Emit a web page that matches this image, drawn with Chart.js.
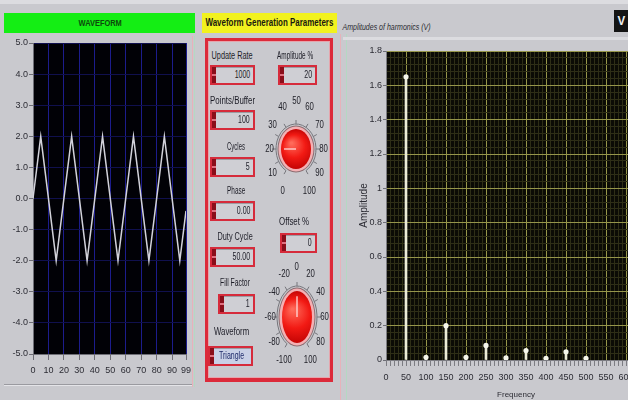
<!DOCTYPE html>
<html>
<head>
<meta charset="utf-8">
<title>Waveform Generation</title>
<script src="https://cdn.jsdelivr.net/npm/chart.js@4.4.1/dist/chart.umd.min.js"></script>
<style>
  html, body { margin: 0; padding: 0; }
  body {
    position: relative; width: 628px; height: 400px; overflow: hidden;
    background: #c9c9ce; color: #1c1c26;
    font-family: "Liberation Sans", Arial, sans-serif;
  }
  .blk { position: absolute; }
  canvas { position: absolute; display: block; }
  .lbl { position: absolute; white-space: nowrap; font-size: 10px; line-height: 12px; transform-origin: 50% 50%; }
  .num {
    position: absolute; box-sizing: border-box; height: 20px;
    border: 2px solid #d62b3b; background: #cfcfd4;
    box-shadow: inset 1px 1px 0 #9c9ca2;
  }
  .num .spin {
    position: absolute; left: 0; top: 0; width: 4px; height: 100%;
    background: linear-gradient(#8a0e1a 0 42%, #e07080 42% 58%, #8a0e1a 58% 100%);
  }
  .num .val {
    position: absolute; right: 3px; top: 2px; font-size: 10px; line-height: 12px;
    white-space: nowrap; transform-origin: 100% 50%;
  }
  .ring { background: #c9d0e6; }
  .ring .val { left: 9px; right: auto; color: #1e2a6a; transform-origin: 0 50%; }
</style>
</head>
<body>

<div class="blk" style="left:0;top:0;width:628px;height:4px;background:#dcdce0"></div>
<div class="blk" style="left:4px;top:13px;width:191px;height:20px;background:#14ee14"></div>
<div class="blk" style="left:202px;top:13px;width:135px;height:20px;background:#f2f21e"></div>
<div class="blk" style="left:192px;top:36px;width:1px;height:351px;background:#e6b2ba"></div>
<div class="blk" style="left:194px;top:36px;width:1px;height:351px;background:#b4d8c2"></div>
<div class="blk" style="left:4px;top:384px;width:188px;height:1px;background:#9a9aa0"></div>
<div class="blk" style="left:4px;top:385px;width:188px;height:1px;background:#e4e4e8"></div>
<div class="blk" style="left:340px;top:34px;width:1px;height:366px;background:#e6b2ba"></div>
<div class="blk" style="left:346px;top:34px;width:1px;height:366px;background:#b4d8c2"></div>
<div class="blk" style="left:343px;top:37px;width:285px;height:3px;background:#dcdce0"></div>
<div class="blk" style="left:614px;top:10px;width:14px;height:22px;background:#141414"></div>

<div class="blk" style="left:205px;top:38px;width:128px;height:344px;box-sizing:border-box;border:3px solid #dc2a3a;border-bottom-width:4px;box-shadow:inset 0 0 0 1px #e6a4ac"></div>

<canvas id="wave" width="198" height="350" style="left:0;top:36px"></canvas>
<canvas id="harm" width="320" height="360" style="left:340px;top:40px"></canvas>
<canvas id="knobAmp" width="90" height="130" style="left:251px;top:84px"></canvas>
<canvas id="knobOff" width="90" height="130" style="left:252px;top:252px"></canvas>

<script>
// ---- values shown on the panel ----
const waveX = [0, 5, 15, 25, 35, 45, 55, 65, 75, 85, 95, 99];
const waveY = [0, 2, -2, 2, -2, 2, -2, 2, -2, 2, -2, -0.4];
const waveXTicks = [0, 10, 20, 30, 40, 50, 60, 70, 80, 90, 99];
const waveYTicks = [-5, -4, -3, -2, -1, 0, 1, 2, 3, 4, 5];

const harmonicFreq = [50, 100, 150, 200, 250, 300, 350, 400, 450, 500];
const harmonicAmp  = [1.65, 0.015, 0.2, 0.015, 0.085, 0.012, 0.055, 0.01, 0.048, 0.01];
const freqTicks = [0, 50, 100, 150, 200, 250, 300, 350, 400, 450, 500, 550, 600, 650];
const ampTicks  = [0, 0.2, 0.4, 0.6, 0.8, 1, 1.2, 1.4, 1.6, 1.8];

const paramNames  = ['Update Rate', 'Points/Buffer', 'Cycles', 'Phase', 'Duty Cycle', 'Fill Factor'];
const paramValues = ['1000', '100', '5', '0.00', '50.00', '1'];
const waveformName = 'Triangle';
const amplitudePct = 20;
const offsetPct = 0;
const amplitudeDial = [0, 10, 20, 30, 40, 50, 60, 70, 80, 90, 100];
const offsetDial = [-100, -80, -60, -40, -20, 0, 20, 40, 60, 80, 100];

// ---- panel text helpers ----
function placeText(text, cx, cy, targetW, style) {
  const s = document.createElement('span');
  s.className = 'lbl';
  s.textContent = text;
  if (style) Object.assign(s.style, style);
  document.body.appendChild(s);
  const w = s.offsetWidth, h = s.offsetHeight;
  s.style.left = (cx - w / 2) + 'px';
  s.style.top = (cy - h / 2) + 'px';
  if (targetW) s.style.transform = 'scaleX(' + (targetW / w).toFixed(3) + ')';
  return s;
}

function numBox(value, x, y, w, cls) {
  const b = document.createElement('div');
  b.className = 'num' + (cls ? ' ' + cls : '');
  b.style.left = x + 'px'; b.style.top = y + 'px'; b.style.width = w + 'px';
  const sp = document.createElement('i'); sp.className = 'spin'; b.appendChild(sp);
  const v = document.createElement('span'); v.className = 'val'; v.textContent = value;
  b.appendChild(v);
  document.body.appendChild(b);
  v.style.transform = 'scaleX(0.7)';
  return b;
}

// titles
placeText('WAVEFORM', 100, 23, 43, {fontWeight: 'bold', fontSize: '9px', color: '#0c4a0c'});
placeText('Waveform Generation Parameters', 269, 23, 128, {fontWeight: 'bold', color: '#1a1a10'});
placeText('Amplitudes of harmonics (V)', 386, 27, 88, {fontStyle: 'italic', fontSize: '9px', color: '#2a2a30'});
placeText('V', 621, 21, 8, {fontWeight: 'bold', fontSize: '13px', color: '#f0f0f0'});

// left column of numeric controls
const paramLayout = [
  {lx: 232, ly: 56,  lw: 41, bx: 210, by: 65,  bw: 45},
  {lx: 232, ly: 101, lw: 45, bx: 210, by: 110, bw: 45},
  {lx: 236, ly: 147, lw: 18, bx: 210, by: 157, bw: 45},
  {lx: 236, ly: 191, lw: 18, bx: 210, by: 201, bw: 45},
  {lx: 235, ly: 237, lw: 35, bx: 210, by: 247, bw: 45},
  {lx: 235, ly: 283, lw: 30, bx: 218, by: 294, bw: 37}
];
paramNames.forEach((name, i) => {
  const p = paramLayout[i];
  placeText(name, p.lx, p.ly, p.lw);
  numBox(paramValues[i], p.bx, p.by, p.bw);
});
placeText('Waveform', 231, 332, 35);
numBox(waveformName, 208, 346, 45, 'ring');

// right column
placeText('Amplitude %', 295, 56, 36);
numBox(String(amplitudePct), 278, 65, 39);
placeText('Offset %', 294, 222, 30);
numBox(String(offsetPct), 280, 233, 37);

// ---- knobs ----
function dialAngle(v, lo, hi) { return (-150 + 300 * (v - lo) / (hi - lo)) * Math.PI / 180; }

function drawKnob(id, k) {
  const cv = document.getElementById(id);
  const ctx = cv.getContext('2d');
  const cx = cv.width / 2, cy = cv.height / 2;
  const pt = (a, rx, ry) => [cx + Math.sin(a) * rx, cy - Math.cos(a) * ry];
  // dial arc and tick marks
  ctx.strokeStyle = '#76767c'; ctx.lineWidth = 1;
  ctx.beginPath();
  ctx.ellipse(cx, cy, k.rx + 5, k.ry + 5, 0, -240 * Math.PI / 180, 60 * Math.PI / 180);
  ctx.stroke();
  k.labels.forEach(v => {
    const a = dialAngle(v, k.lo, k.hi);
    const p1 = pt(a, k.rx + 5, k.ry + 5), p2 = pt(a, k.rx + 9, k.ry + 9);
    ctx.beginPath(); ctx.moveTo(p1[0], p1[1]); ctx.lineTo(p2[0], p2[1]); ctx.stroke();
  });
  // rim, halo, body
  ctx.fillStyle = '#8c6c70';
  ctx.beginPath(); ctx.ellipse(cx, cy, k.rx + 3.5, k.ry + 3.5, 0, 0, Math.PI * 2); ctx.fill();
  ctx.fillStyle = '#f4b0b4';
  ctx.beginPath(); ctx.ellipse(cx, cy, k.rx + 2.5, k.ry + 2.5, 0, 0, Math.PI * 2); ctx.fill();
  const g = ctx.createRadialGradient(cx - k.rx * 0.3, cy - k.ry * 0.3, 1, cx, cy, Math.max(k.rx, k.ry));
  g.addColorStop(0, '#ff6a5a'); g.addColorStop(0.55, '#f21a14'); g.addColorStop(1, '#c40404');
  ctx.fillStyle = g;
  ctx.beginPath(); ctx.ellipse(cx, cy, k.rx, k.ry, 0, 0, Math.PI * 2); ctx.fill();
  // pointer
  const a = dialAngle(k.value, k.lo, k.hi);
  const tip = pt(a, k.rx * 0.8, k.ry * 0.8);
  ctx.strokeStyle = '#ffe8e8'; ctx.lineWidth = 1.2;
  ctx.beginPath(); ctx.moveTo(cx, cy); ctx.lineTo(tip[0], tip[1]); ctx.stroke();
  // scale numbers
  const left = parseFloat(cv.style.left), top = parseFloat(cv.style.top);
  k.labels.forEach(v => {
    const p = pt(dialAngle(v, k.lo, k.hi), k.lrx, k.lry);
    const s = placeText(String(v), left + p[0], top + p[1], null, {color: '#22222a'});
    s.style.transform = 'scaleX(0.78)';
  });
}

drawKnob('knobAmp', {rx: 15, ry: 20, lrx: 27, lry: 48, lo: 0, hi: 100,
  value: amplitudePct, labels: amplitudeDial});
drawKnob('knobOff', {rx: 15, ry: 26, lrx: 27, lry: 50, lo: -100, hi: 100,
  value: offsetPct, labels: offsetDial});

// ---- charts ----
Chart.defaults.font.family = '"Liberation Sans", Arial, sans-serif';
Chart.defaults.color = '#2c2c34';

const plotFill = color => ({
  id: 'plotFill',
  beforeDraw(chart) {
    const {ctx, chartArea: a} = chart;
    ctx.save();
    ctx.fillStyle = color;
    ctx.fillRect(a.left, a.top, a.right - a.left, a.bottom - a.top);
    ctx.restore();
  }
});

// major ticks with evenly spaced minor ticks between them
function withMinor(major, parts) {
  const out = [];
  major.forEach((v, i) => {
    out.push({value: v, isMajor: true});
    if (i < major.length - 1) {
      const step = (major[i + 1] - v) / parts;
      for (let k = 1; k < parts; k++) out.push({value: v + k * step, isMajor: false});
    }
  });
  return out;
}

new Chart(document.getElementById('wave'), {
  type: 'line',
  data: {
    datasets: [{
      data: waveX.map((x, i) => ({x, y: waveY[i]})),
      borderColor: '#d2d2da', borderWidth: 1.5, pointRadius: 0, tension: 0
    }]
  },
  options: {
    responsive: false, animation: false, events: [],
    layout: {padding: {left: 0, right: 12, top: 7, bottom: 0}},
    plugins: {legend: {display: false}, tooltip: {enabled: false}},
    scales: {
      x: {
        type: 'linear', min: 0, max: 99,
        afterBuildTicks: s => { s.ticks = waveXTicks.map(v => ({value: v})); },
        afterFit: s => { s.height = 32; },
        ticks: {autoSkip: false, maxRotation: 0, padding: 5, font: {size: 9}, callback: v => String(v)},
        grid: {color: '#1c1c8c', tickColor: '#6e6e76', tickLength: 6},
        border: {color: '#6e6e76'}
      },
      y: {
        type: 'linear', min: -5, max: 5,
        afterBuildTicks: s => { s.ticks = waveYTicks.map(v => ({value: v})); },
        afterFit: s => { s.width = 33; },
        ticks: {padding: 1, font: {size: 9}, callback: v => v.toFixed(1)},
        grid: {color: '#10104e', tickColor: '#6e6e76', tickLength: 4},
        border: {color: '#6e6e76'}
      }
    }
  },
  plugins: [plotFill('#010106')]
});

const harmonicPoints = harmonicFreq.map((f, i) => ({x: f, y: harmonicAmp[i]}));
const MAJOR_GRID = '#96964a', MINOR_GRID = '#2e2e16';

new Chart(document.getElementById('harm'), {
  type: 'bar',
  data: {
    datasets: [
      {type: 'scatter', data: harmonicPoints, pointRadius: 2.6, pointBackgroundColor: '#f6f6ec', pointBorderWidth: 0},
      {type: 'bar', data: harmonicPoints, backgroundColor: '#ecebd8', barThickness: 2, borderWidth: 0}
    ]
  },
  options: {
    responsive: false, animation: false, events: [],
    layout: {padding: {left: 18, right: 14, top: 11, bottom: 0}},
    plugins: {legend: {display: false}, tooltip: {enabled: false}},
    scales: {
      x: {
        type: 'linear', min: 0, max: 650, offset: false,
        afterBuildTicks: s => { s.ticks = withMinor(freqTicks, 5); },
        afterFit: s => { s.height = 40; },
        ticks: {autoSkip: false, maxRotation: 0, minRotation: 0, padding: 6, font: {size: 9},
          callback: (v, i, t) => t[i].isMajor ? String(v) : ''},
        grid: {offset: false, color: c => c.tick && c.tick.isMajor ? MAJOR_GRID : MINOR_GRID,
          tickColor: '#7c7c82', tickLength: 6},
        border: {color: '#7c7c82'},
        title: {display: true, text: 'Frequency', font: {size: 8}, padding: 0, color: '#2c2c34'}
      },
      y: {
        type: 'linear', min: 0, max: 1.8,
        afterBuildTicks: s => { s.ticks = withMinor(ampTicks, 5); },
        afterFit: s => { s.width = 28; },
        ticks: {autoSkip: false, padding: 1, font: {size: 9},
          callback: (v, i, t) => t[i].isMajor ? String(Number(v.toFixed(2))) : ''},
        grid: {color: c => c.tick && c.tick.isMajor ? MAJOR_GRID : MINOR_GRID,
          tickColor: c => c.tick && c.tick.isMajor ? '#6e6e76' : 'rgba(0,0,0,0)', tickLength: 3},
        border: {color: '#7c7c82'},
        title: {display: true, text: 'Amplitude', font: {size: 10}, padding: 0, color: '#2c2c34'}
      }
    }
  },
  plugins: [plotFill('#0b0b05')]
});
</script>
</body>
</html>
